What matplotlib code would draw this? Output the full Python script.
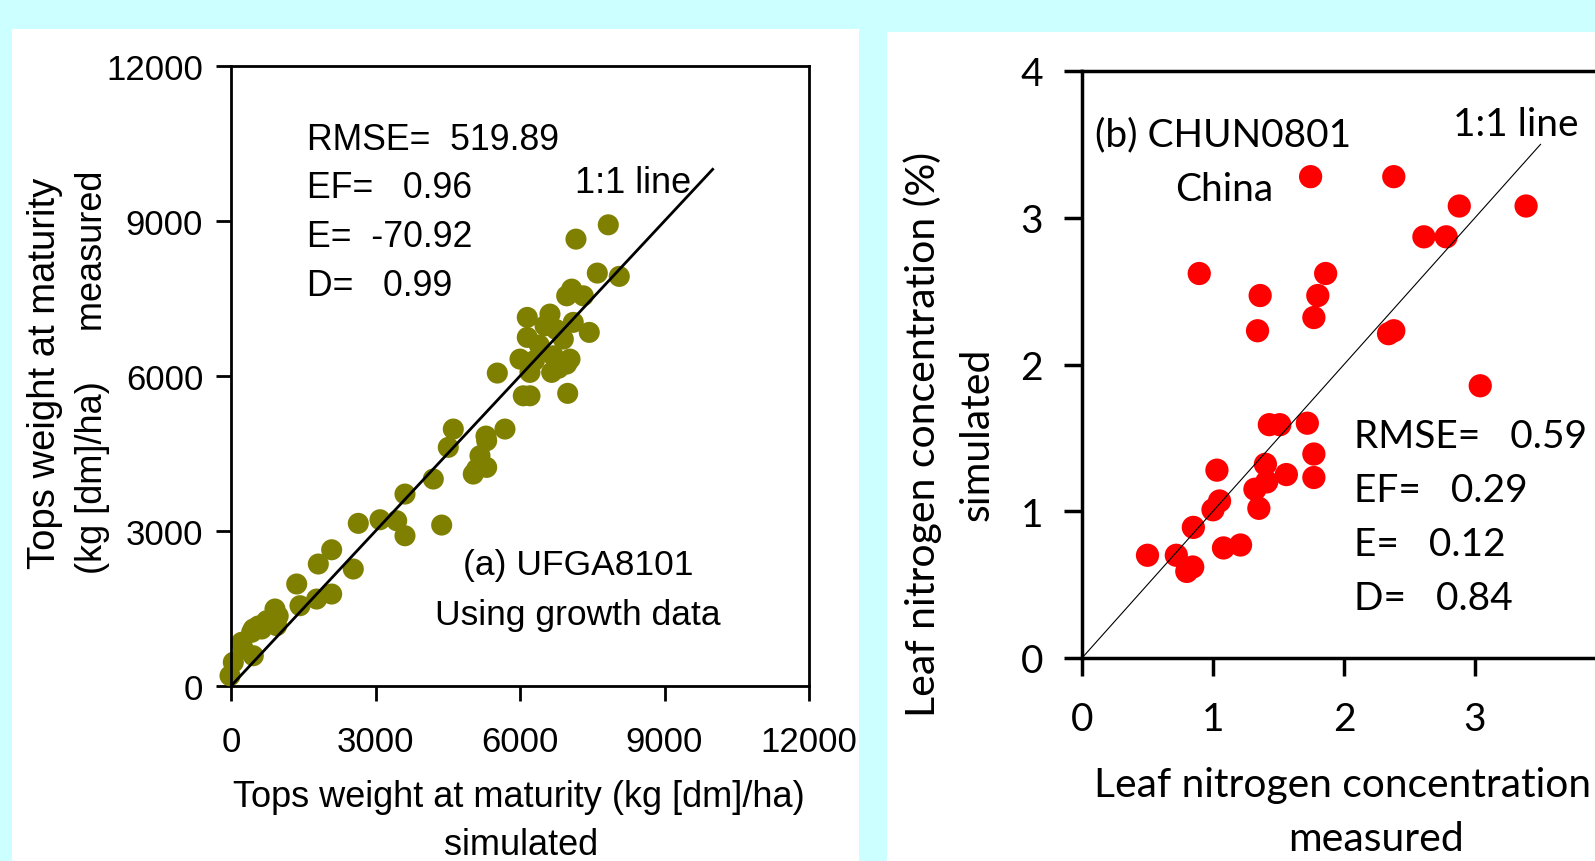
import matplotlib
matplotlib.use('Agg')
import matplotlib.pyplot as plt
from matplotlib.patches import Rectangle

W, H = 1595, 862

# (a) tops weight at maturity, kg [dm]/ha
tops_sim = [-21, 48, 221, 256, 463, 429, 637, 463, 567, 741, 913, 948, 980,
            1364, 1432, 1779, 1813, 2090, 2090, 2539, 2643, 3093, 3440, 3612, 3612,
            4200, 4374, 4511, 4615, 5030, 5100, 5169, 5308, 5308, 5294, 5688,
            5529, 6000, 6068, 6151, 6151, 6207, 6207, 6300, 6400, 6519, 6622, 6657,
            6691, 6750, 6800, 6899, 6969, 6969, 6990, 7038, 7073, 7106, 7162, 7314,
            7438, 7605, 7833, 8061]
tops_meas = [199, 459, 846, 716, 586, 1039, 1103, 1103, 1161, 1264, 1490, 1167, 1355,
             1974, 1554, 1683, 2361, 1780, 2637, 2264, 3148, 3218, 3199, 2908, 3715,
             4006, 3115, 4619, 4973, 4102, 4199, 4457, 4747, 4231, 4837, 4973,
             6057, 6327, 5617, 7134, 6747, 6070, 5617, 6300, 6600, 6972, 7198, 6070,
             6391, 6900, 6150, 6714, 7552, 6231, 5664, 6327, 7682, 7038, 8649, 7552,
             6844, 7992, 8926, 7928]

# (b) leaf nitrogen concentration, %
leafn_meas = [1.745, 2.38, 2.88, 3.39, 2.61, 2.78, 0.895, 1.86, 1.36, 1.80, 1.77,
              1.34, 2.34, 2.38, 3.04, 1.43, 1.51, 1.72, 1.77, 1.40, 1.56, 1.77,
              1.03, 1.32, 1.41, 1.35, 1.05, 1.00, 0.85, 0.50, 0.72, 0.80, 0.845,
              1.08, 1.21]
leafn_sim = [3.28, 3.28, 3.08, 3.08, 2.87, 2.87, 2.62, 2.62, 2.47, 2.47, 2.32,
             2.23, 2.21, 2.23, 1.855, 1.59, 1.59, 1.60, 1.39, 1.32, 1.25, 1.23,
             1.28, 1.15, 1.20, 1.02, 1.07, 1.01, 0.89, 0.70, 0.70, 0.59, 0.62,
             0.75, 0.77]

stats_a = ['RMSE=  519.89', 'EF=   0.96', 'E=  -70.92', 'D=   0.99']
stats_b = ['RMSE=   0.59', 'EF=   0.29', 'E=   0.12', 'D=   0.84']


def fx(x):
    return x / W


def fy(y):
    return 1 - y / H


def box(l, t, r, b):
    return [fx(l), fy(b), (r - l) / W, (b - t) / H]


ARIAL = 'Liberation Sans'
CALI = 'Lato'

fig = plt.figure(figsize=(W / 100, H / 100), dpi=100, facecolor='#ccffff')
fig.patches.append(Rectangle((fx(12), 0), (859 - 12) / W, fy(30), transform=fig.transFigure,
                             facecolor='white', edgecolor='none', zorder=-10))
fig.patches.append(Rectangle((fx(887), 0), (W - 887) / W, fy(33), transform=fig.transFigure,
                             facecolor='white', edgecolor='none', zorder=-10))

# ---- panel (a)
ax1 = fig.add_axes(box(231, 67, 809, 687))
ax1.patch.set_alpha(0)
ax1.scatter(tops_sim, tops_meas, s=230, color='#808000', edgecolors='none', clip_on=False, zorder=2)
ax1.plot([0, 10000], [0, 10000], color='black', lw=2, zorder=3)
ax1.set_xlim(0, 12000)
ax1.set_ylim(0, 12000)
ax1.set_xticks(range(0, 12001, 3000))
ax1.set_yticks(range(0, 12001, 3000))
for s in ax1.spines.values():
    s.set_linewidth(2)
ax1.tick_params(direction='out', length=11, width=2, labelsize=25, pad=9)
ax1.tick_params(axis='x', pad=17)
for lab in ax1.get_xticklabels() + ax1.get_yticklabels():
    lab.set_fontfamily(ARIAL)

for i, t in enumerate(stats_a):
    fig.text(fx(307), fy(140 + 49 * i), t, fontsize=25.7, family=ARIAL, va='center', ha='left')
fig.text(fx(633), fy(184), '1:1 line', fontsize=26, family=ARIAL, ha='center', va='center')
fig.text(fx(578), fy(566), '(a) UFGA8101', fontsize=25.5, family=ARIAL, ha='center', va='center')
fig.text(fx(578), fy(616), 'Using growth data', fontsize=25.5, family=ARIAL, ha='center', va='center')
fig.text(fx(519), fy(798), 'Tops weight at maturity (kg [dm]/ha)', fontsize=26, family=ARIAL,
         ha='center', va='center')
fig.text(fx(521), fy(846), 'simulated', fontsize=26, family=ARIAL, ha='center', va='center')
fig.text(fx(45), fy(373), 'Tops weight at maturity', fontsize=27.5, family=ARIAL,
         rotation=90, ha='center', va='center')
fig.text(fx(93), fy(372), '(kg [dm]/ha)     measured', fontsize=26, family=ARIAL,
         rotation=90, ha='center', va='center')

# ---- panel (b)
ax2 = fig.add_axes(box(1082, 72, 1606, 659))
ax2.patch.set_alpha(0)
ax2.scatter(leafn_meas, leafn_sim, s=280, color='#ff0000', edgecolors='none', zorder=2)
ax2.plot([0, 3.5], [0, 3.5], color='black', lw=0.8, zorder=3)
ax2.set_xlim(0, 4)
ax2.set_ylim(0, 4)
ax2.set_xticks([0, 1, 2, 3])
ax2.set_yticks([0, 1, 2, 3, 4])
for s in ax2.spines.values():
    s.set_linewidth(2.5)
ax2.tick_params(direction='out', length=13, width=2.5, labelsize=28, pad=15)
ax2.tick_params(axis='x', pad=18)
for lab in ax2.get_xticklabels() + ax2.get_yticklabels():
    lab.set_fontfamily(CALI)

fig.text(fx(1095), fy(135), '(b) CHUN0801', fontsize=28, family=CALI, ha='left', va='center')
fig.text(fx(1224), fy(190), 'China', fontsize=28, family=CALI, ha='center', va='center')
fig.text(fx(1516), fy(125), '1:1 line', fontsize=28, family=CALI, ha='center', va='center')
for i, t in enumerate(stats_b):
    fig.text(fx(1354), fy(437 + 54 * i), t, fontsize=28, family=CALI, ha='left', va='center')
fig.text(fx(1342), fy(786), 'Leaf nitrogen concentration', fontsize=29.3, family=CALI,
         ha='center', va='center')
fig.text(fx(1376), fy(840), 'measured', fontsize=29.5, family=CALI, ha='center', va='center')
fig.text(fx(923), fy(434), 'Leaf nitrogen concentration (%)', fontsize=29.5, family=CALI,
         rotation=90, ha='center', va='center')
fig.text(fx(977), fy(434), 'simulated', fontsize=29.5, family=CALI,
         rotation=90, ha='center', va='center')

fig.savefig('out.png', dpi=100, facecolor=fig.get_facecolor())
